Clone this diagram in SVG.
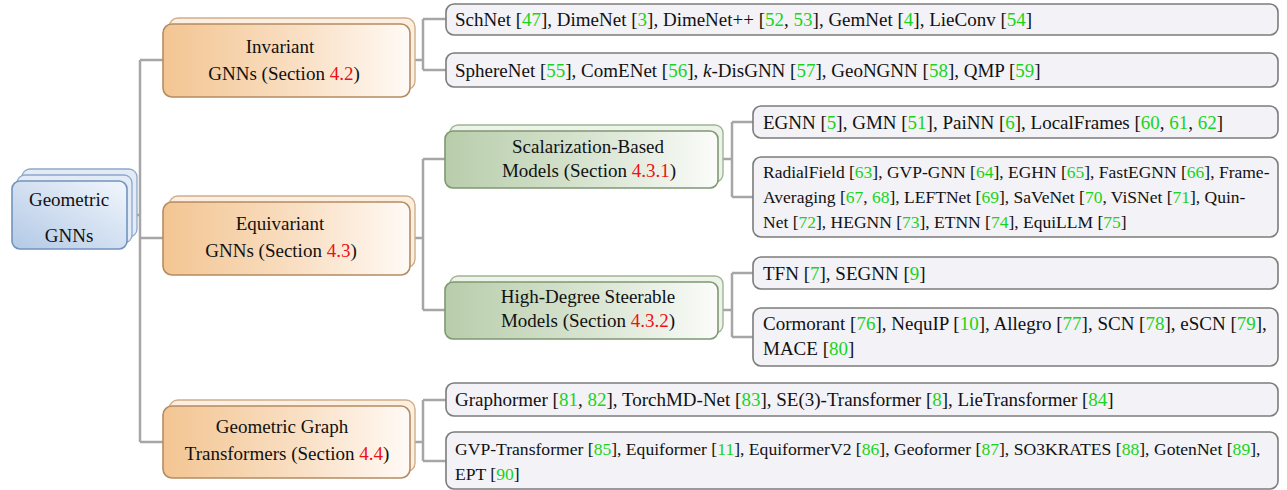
<svg xmlns="http://www.w3.org/2000/svg" width="1287" height="490" viewBox="0 0 1287 490">
<defs>
<linearGradient id="gOr" x1="0" y1="0" x2="1" y2="0">
<stop offset="0" stop-color="#f3c592"/><stop offset="0.55" stop-color="#f9dfc3"/><stop offset="1" stop-color="#fffaf6"/>
</linearGradient>
<linearGradient id="gGr" x1="0" y1="0" x2="1" y2="0">
<stop offset="0" stop-color="#b8cdab"/><stop offset="0.55" stop-color="#d9e5d2"/><stop offset="1" stop-color="#fbfcfa"/>
</linearGradient>
<linearGradient id="gBl" x1="0" y1="1" x2="1" y2="0">
<stop offset="0" stop-color="#b3c9e6"/><stop offset="1" stop-color="#f1f6fc"/>
</linearGradient>
</defs>
<style>
.c{text-anchor:middle}
.g{fill:#19d419}
.r{fill:#ee1111}
.leaf{fill:#f3f2f7;stroke:#7c7c7c;stroke-width:1.6}
.ob{fill:#fcefe1;stroke:#cfae88;stroke-width:1.4}
.of{fill:url(#gOr);stroke:#b48c62;stroke-width:1.6}
.gb{fill:#eef3ea;stroke:#9fb593;stroke-width:1.4}
.gf{fill:url(#gGr);stroke:#7f9872;stroke-width:1.6}
.bb{fill:#e2ebf6;stroke:#8ea8cb;stroke-width:1.3}
.bf{fill:url(#gBl);stroke:#7393bd;stroke-width:1.6}
.con{fill:none;stroke:#a6a6a6;stroke-width:2.5}
</style>
<g id="connectors" class="con">
<path d="M127,215 H140 M140,60 V442 M140,60 H163 M140,238 H163 M140,442 H163"/>
<path d="M410,60 H423 M423,19 V70 M423,19 H446 M423,70 H446"/>
<path d="M410,238 H423 M423,159 V310 M423,159 H445 M423,310 H445"/>
<path d="M718,159 H732 M732,122 V197 M732,122 H753 M732,197 H753"/>
<path d="M718,310 H732 M732,273 V337 M732,273 H753 M732,337 H753"/>
<path d="M410,442 H423 M423,400 V461 M423,400 H446 M423,461 H446"/>
</g>
<g id="root">
<rect class="bb" x="22" y="169" width="115" height="68" rx="8"/>
<rect class="bb" x="17" y="175" width="115" height="68" rx="8"/>
<rect class="bf" x="12" y="181" width="115" height="68" rx="8"/>
<text font-family="Liberation Serif" font-size="19" fill="#111" class="c" x="69" y="206">Geometric</text>
<text font-family="Liberation Serif" font-size="19" fill="#111" class="c" x="69" y="242">GNNs</text>
</g>
<g id="invariant">
<rect class="ob" x="169" y="18" width="246" height="72" rx="9"/>
<rect class="of" x="163" y="24" width="247" height="73" rx="9"/>
<text font-family="Liberation Serif" font-size="19" fill="#111" class="c" x="280" y="53">Invariant</text>
<text font-family="Liberation Serif" font-size="19" fill="#111" class="c" x="284" y="80">GNNs (Section <tspan class="r">4.2</tspan>)</text>
</g>
<g id="equivariant">
<rect class="ob" x="169" y="196" width="246" height="72" rx="9"/>
<rect class="of" x="163" y="202" width="247" height="73" rx="9"/>
<text font-family="Liberation Serif" font-size="19" fill="#111" class="c" x="280" y="230">Equivariant</text>
<text font-family="Liberation Serif" font-size="19" fill="#111" class="c" x="281" y="257">GNNs (Section <tspan class="r">4.3</tspan>)</text>
</g>
<g id="transformers">
<rect class="ob" x="169" y="400" width="246" height="72" rx="9"/>
<rect class="of" x="163" y="406" width="247" height="72" rx="9"/>
<text font-family="Liberation Serif" font-size="19" fill="#111" class="c" x="282" y="433">Geometric Graph</text>
<text font-family="Liberation Serif" font-size="19" fill="#111" class="c" x="287" y="460">Transformers (Section <tspan class="r">4.4</tspan>)</text>
</g>
<g id="scalarization">
<rect class="gb" x="450" y="125" width="273" height="57" rx="8"/>
<rect class="gf" x="445" y="131" width="273" height="57" rx="8"/>
<text font-family="Liberation Serif" font-size="19" fill="#111" class="c" x="588" y="153">Scalarization-Based</text>
<text font-family="Liberation Serif" font-size="19" fill="#111" class="c" x="589" y="177">Models (Section <tspan class="r">4.3.1</tspan>)</text>
</g>
<g id="highdegree">
<rect class="gb" x="450" y="276" width="273" height="57" rx="8"/>
<rect class="gf" x="445" y="282" width="273" height="57" rx="8"/>
<text font-family="Liberation Serif" font-size="19" fill="#111" class="c" x="588" y="303">High-Degree Steerable</text>
<text font-family="Liberation Serif" font-size="19" fill="#111" class="c" x="588" y="327">Models (Section <tspan class="r">4.3.2</tspan>)</text>
</g>
<g id="leaf-invariant-1">
<rect class="leaf" x="446" y="4" width="832" height="31" rx="8"/>
<text font-family="Liberation Serif" font-size="19" fill="#111" x="455" y="26">SchNet [<tspan class="g">47</tspan>], DimeNet [<tspan class="g">3</tspan>], DimeNet++ [<tspan class="g">52</tspan>, <tspan class="g">53</tspan>], GemNet [<tspan class="g">4</tspan>], LieConv [<tspan class="g">54</tspan>]</text>
</g>
<g id="leaf-invariant-2">
<rect class="leaf" x="446" y="53" width="832" height="34" rx="8"/>
<text font-family="Liberation Serif" font-size="19" fill="#111" x="455" y="77">SphereNet [<tspan class="g">55</tspan>], ComENet [<tspan class="g">56</tspan>], <tspan font-style="italic">k</tspan>-DisGNN [<tspan class="g">57</tspan>], GeoNGNN [<tspan class="g">58</tspan>], QMP [<tspan class="g">59</tspan>]</text>
</g>
<g id="leaf-scalar-1">
<rect class="leaf" x="753" y="106" width="525" height="32" rx="8"/>
<text font-family="Liberation Serif" font-size="19" fill="#111" x="763" y="129">EGNN [<tspan class="g">5</tspan>], GMN [<tspan class="g">51</tspan>], PaiNN [<tspan class="g">6</tspan>], LocalFrames [<tspan class="g">60</tspan>, <tspan class="g">61</tspan>, <tspan class="g">62</tspan>]</text>
</g>
<g id="leaf-scalar-2">
<rect class="leaf" x="753" y="157" width="525" height="80" rx="8"/>
<text font-family="Liberation Serif" font-size="17.5" fill="#111" x="763" y="178">RadialField [<tspan class="g">63</tspan>], GVP-GNN [<tspan class="g">64</tspan>], EGHN [<tspan class="g">65</tspan>], FastEGNN [<tspan class="g">66</tspan>], Frame-</text>
<text font-family="Liberation Serif" font-size="17.5" fill="#111" x="763" y="203">Averaging [<tspan class="g">67</tspan>, <tspan class="g">68</tspan>], LEFTNet [<tspan class="g">69</tspan>], SaVeNet [<tspan class="g">70</tspan>, ViSNet [<tspan class="g">71</tspan>], Quin-</text>
<text font-family="Liberation Serif" font-size="17.5" fill="#111" x="763" y="228">Net [<tspan class="g">72</tspan>], HEGNN [<tspan class="g">73</tspan>], ETNN [<tspan class="g">74</tspan>], EquiLLM [<tspan class="g">75</tspan>]</text>
</g>
<g id="leaf-steer-1">
<rect class="leaf" x="753" y="257" width="525" height="32" rx="8"/>
<text font-family="Liberation Serif" font-size="19" fill="#111" x="763" y="280">TFN [<tspan class="g">7</tspan>], SEGNN [<tspan class="g">9</tspan>]</text>
</g>
<g id="leaf-steer-2">
<rect class="leaf" x="753" y="308" width="525" height="58" rx="8"/>
<text font-family="Liberation Serif" font-size="19" fill="#111" x="763" y="330">Cormorant [<tspan class="g">76</tspan>], NequIP [<tspan class="g">10</tspan>], Allegro [<tspan class="g">77</tspan>], SCN [<tspan class="g">78</tspan>], eSCN [<tspan class="g">79</tspan>],</text>
<text font-family="Liberation Serif" font-size="19" fill="#111" x="763" y="355">MACE [<tspan class="g">80</tspan>]</text>
</g>
<g id="leaf-trans-1">
<rect class="leaf" x="446" y="383" width="832" height="33" rx="8"/>
<text font-family="Liberation Serif" font-size="19" fill="#111" x="455" y="406">Graphormer [<tspan class="g">81</tspan>, <tspan class="g">82</tspan>], TorchMD-Net [<tspan class="g">83</tspan>], SE(3)-Transformer [<tspan class="g">8</tspan>], LieTransformer [<tspan class="g">84</tspan>]</text>
</g>
<g id="leaf-trans-2">
<rect class="leaf" x="446" y="432" width="832" height="57" rx="8"/>
<text font-family="Liberation Serif" font-size="17.6" fill="#111" x="455" y="455">GVP-Transformer [<tspan class="g">85</tspan>], Equiformer [<tspan class="g">11</tspan>], EquiformerV2 [<tspan class="g">86</tspan>], Geoformer [<tspan class="g">87</tspan>], SO3KRATES [<tspan class="g">88</tspan>], GotenNet [<tspan class="g">89</tspan>],</text>
<text font-family="Liberation Serif" font-size="17.6" fill="#111" x="455" y="480">EPT [<tspan class="g">90</tspan>]</text>
</g>
</svg>
